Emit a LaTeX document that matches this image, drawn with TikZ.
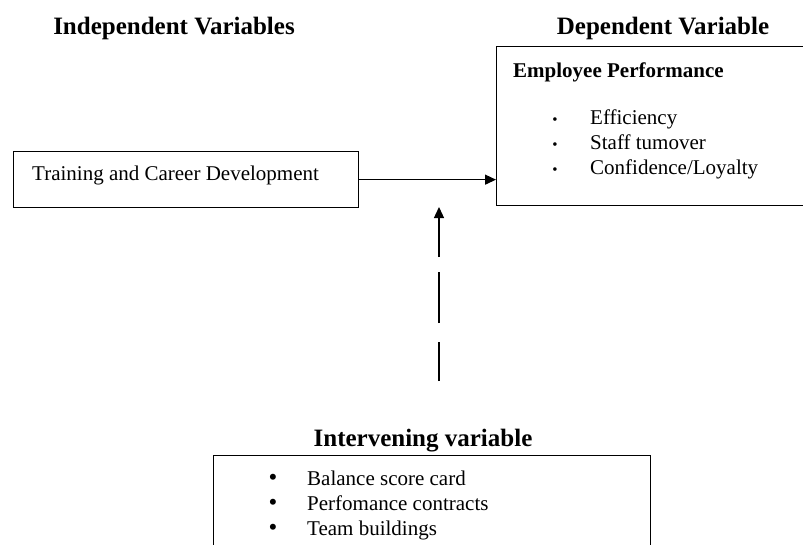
\documentclass[tikz,border=0pt]{standalone}
\usepackage{fontspec}
\setmainfont{Liberation Serif}
\usetikzlibrary{positioning,arrows.meta}

\begin{document}
\begin{tikzpicture}[x=1pt, y=-1pt,
    box/.style={draw, line width=1.3pt, inner sep=0pt, anchor=north west},
    heading/.style={font=\fontsize{25}{28}\selectfont\bfseries, anchor=base},
    txt/.style={font=\fontsize{21}{24}\selectfont, anchor=base west, inner sep=0pt},
    bullet/.style={inner sep=0pt, anchor=base},
    arr/.style={line width=1.3pt, -{Triangle[length=11pt, width=10pt]}}]
  \useasboundingbox (0,0) rectangle (803,544);
  % boxes
  \node [box, minimum width=345, minimum height=56] (ind) at (13,151) {};
  \node [box, minimum width=312, minimum height=159] (dep) at (496,46) {};
  \node [box, minimum width=437, minimum height=100] (int) at (213,455) {};
  % headings
  \node [heading] (indtitle) at (174,34) {Independent Variables};
  \node [heading] (deptitle) at (663,34) {Dependent Variable};
  \node [heading] (inttitle) at (423,446) {Intervening variable};
  % box texts
  \node [txt] (tcd) at (32,180) {Training and Career Development};
  \node [txt, font=\fontsize{21}{24}\selectfont\bfseries] (ep) at (513,77) {Employee Performance};
  \foreach \t [count=\i] in {Efficiency, Staff tumover, Confidence/Loyalty} {
    \node [bullet, font=\fontsize{15}{18}\selectfont] (db\i) at (555,99+25*\i) {•};
    \node [txt] (dt\i) at (590,99+25*\i) {\t};
  }
  \foreach \t [count=\i] in {Balance score card, Perfomance contracts, Team buildings} {
    \node [bullet, font=\fontsize{25}{28}\selectfont] (ib\i) at (273,460+25*\i) {•};
    \node [txt] (it\i) at (307,460+25*\i) {\t};
  }
  % connectors
  \coordinate (tip) at (439,207);
  \coordinate (base) at (439,381);
  \draw [arr] (ind.east) -- (dep.west |- ind.east);
  \draw [arr, dash pattern=on 39pt off 19pt on 51pt off 15pt on 39pt off 20pt] (base) -- (tip);
\end{tikzpicture}
\end{document}
